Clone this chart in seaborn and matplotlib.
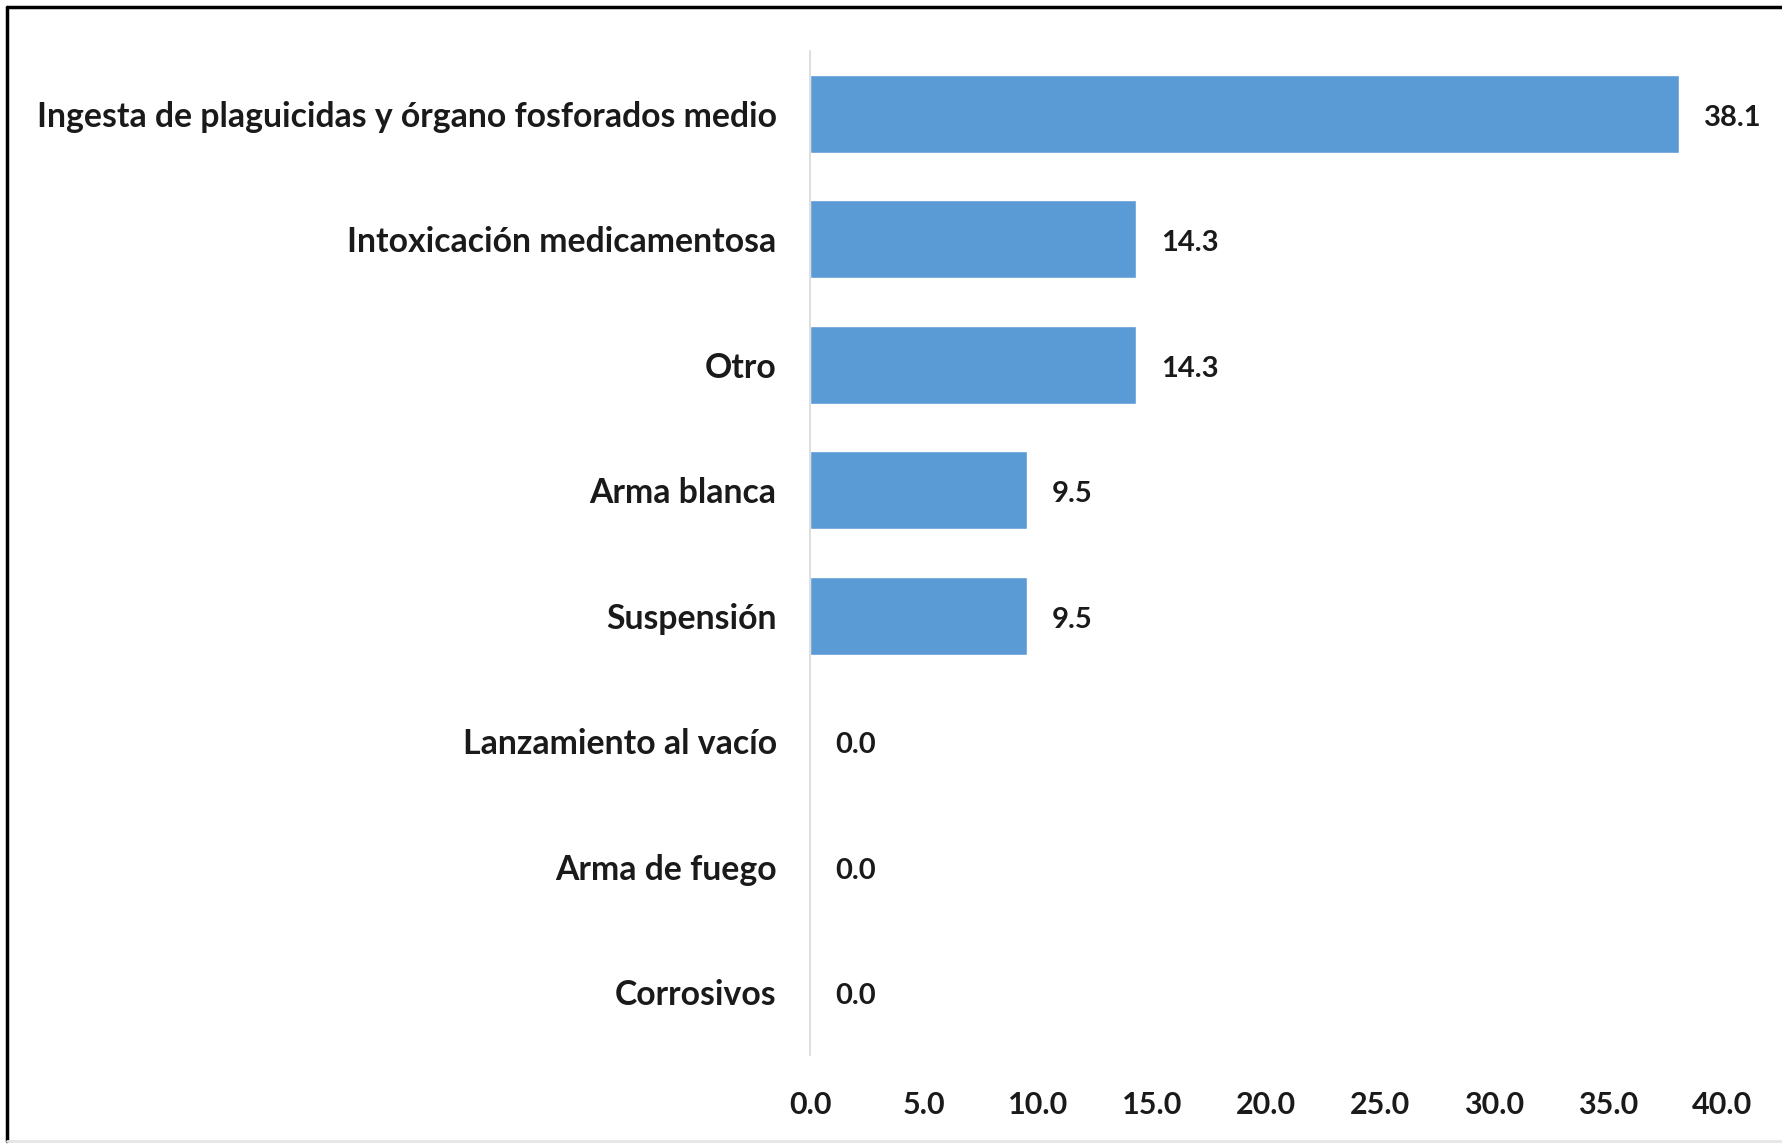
import matplotlib
matplotlib.use("Agg")
import matplotlib.pyplot as plt
import matplotlib.lines as mlines
import seaborn as sns
import pandas as pd

categories = [
    "Ingesta de plaguicidas y órgano fosforados medio",
    "Intoxicación medicamentosa",
    "Otro",
    "Arma blanca",
    "Suspensión",
    "Lanzamiento al vacío",
    "Arma de fuego",
    "Corrosivos",
]
values = [38.1, 14.3, 14.3, 9.5, 9.5, 0.0, 0.0, 0.0]
x_ticks = [0, 5, 10, 15, 20, 25, 30, 35, 40]

df = pd.DataFrame({"causa": categories, "pct": values})

sns.set_style("white")
plt.rcParams["font.family"] = ["Lato", "DejaVu Sans"]

fig = plt.figure(figsize=(17.83, 11.46), dpi=100)
ax = fig.add_axes([0.4543, 0.0794, 0.9658 - 0.4543, 0.9555 - 0.0794])

sns.barplot(data=df, y="causa", x="pct", color="#5B9BD5", saturation=1,
            width=0.62, ax=ax, orient="h")

ax.set_xlim(0, 40)
ax.set_ylim(7.5, -0.5)
ax.set_xticks(x_ticks)
ax.set_xticklabels([f"{t:.1f}" for t in x_ticks])
ax.set_xlabel("")
ax.set_ylabel("")

for s in ["top", "right", "bottom"]:
    ax.spines[s].set_visible(False)
ax.spines["left"].set_color("#D9D9D9")
ax.spines["left"].set_linewidth(1.2)

ax.tick_params(axis="y", length=0, pad=24, labelsize=24.3, labelcolor="#1a1a1a")
ax.tick_params(axis="x", length=0, pad=26, labelsize=22, labelcolor="#1a1a1a")
for lab in ax.get_yticklabels() + ax.get_xticklabels():
    lab.set_fontweight("bold")

for i, v in enumerate(values):
    ax.text(v + 1.1, i + 0.03, f"{v:.1f}", va="center", ha="left",
            fontsize=21, fontweight="bold", color="#1a1a1a", clip_on=False)

# marco superior e izquierdo (el derecho queda recortado en la imagen original)
fig.lines.append(mlines.Line2D([0.004, 1.0], [0.994, 0.994], transform=fig.transFigure,
                               color="black", linewidth=2.5))
fig.lines.append(mlines.Line2D([0.004, 0.004], [0.004, 0.994], transform=fig.transFigure,
                               color="black", linewidth=2.5))
fig.lines.append(mlines.Line2D([0.004, 1.0], [0.004, 0.004], transform=fig.transFigure,
                               color="#E6E6E6", linewidth=2))

fig.savefig("out.png", dpi=100)
